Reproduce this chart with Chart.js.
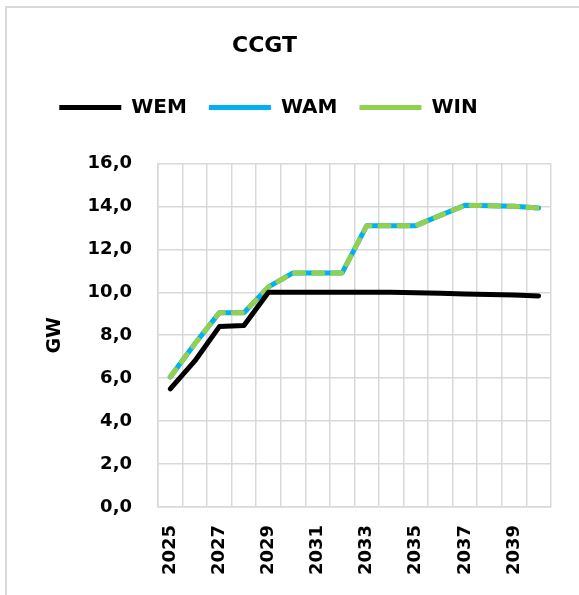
<!DOCTYPE html>
<html lang="en">
<head>
    <meta charset="UTF-8">
    <title>CCGT</title>
    <script src="https://cdn.jsdelivr.net/npm/chart.js"></script>
    <style>
        body { margin: 0; background: #fff; overflow: hidden; }
        #frame { position: absolute; left: 5px; top: 6px; width: 620px; height: 640px; border: 2px solid #d9d9d9; }
        #chart { position: absolute; left: 0; top: 0; }
    </style>
</head>
<body>
    <div id="frame"></div>
    <canvas id="chart" width="579" height="595"></canvas>

    <script>
        // data
        const years = ['2025', '2026', '2027', '2028', '2029', '2030', '2031', '2032',
                       '2033', '2034', '2035', '2036', '2037', '2038', '2039', '2040'];
        const wem = [5.5, 6.8, 8.4, 8.45, 10.0, 10.0, 10.0, 10.0, 10.0, 10.0, 9.98, 9.95, 9.92, 9.9, 9.87, 9.83];
        const wam = [6.05, 7.6, 9.05, 9.05, 10.25, 10.9, 10.9, 10.9, 13.1, 13.1, 13.1, 13.58, 14.05, 14.03, 14.0, 13.92];
        const win = [6.05, 7.6, 9.05, 9.05, 10.25, 10.9, 10.9, 10.9, 13.1, 13.1, 13.1, 13.58, 14.05, 14.03, 14.0, 13.92];

        const FONT = "'DejaVu Sans', sans-serif";
        const GRID = '#d9d9d9';

        // extra space under the legend, and title/legend sit a bit left of the plot centre
        const tweaks = {
            id: 'tweaks',
            beforeInit(chart) {
                const fit = chart.legend.fit;
                chart.legend.fit = function () {
                    fit.bind(chart.legend)();
                    this.height += 36;
                };
            },
            afterLayout(chart) {
                chart.titleBlock.left -= 32;
                chart.titleBlock.right -= 32;
                chart.legend.left -= 28;
                chart.legend.right -= 28;
            }
        };

        new Chart(document.getElementById('chart'), {
            type: 'line',
            data: {
                labels: years,
                datasets: [
                    { label: 'WEM', data: wem, borderColor: '#000000', backgroundColor: '#000000', borderWidth: 5, order: 0 },
                    { label: 'WAM', data: wam, borderColor: '#00B0F0', backgroundColor: '#00B0F0', borderWidth: 5, order: 1 },
                    { label: 'WIN', data: win, borderColor: '#92D050', backgroundColor: '#92D050', borderWidth: 5, borderDash: [9, 10], order: 0 }
                ]
            },
            options: {
                responsive: false,
                animation: false,
                elements: {
                    point: { radius: 0, hoverRadius: 0 },
                    line: { tension: 0, borderCapStyle: 'round', borderJoinStyle: 'round' }
                },
                layout: { padding: { top: 20, left: 40, right: 26, bottom: 17 } },
                plugins: {
                    title: {
                        display: true,
                        text: 'CCGT',
                        color: '#000',
                        font: { family: FONT, size: 22, weight: 'bold' },
                        padding: { top: 13, bottom: 16 }
                    },
                    legend: {
                        display: true,
                        labels: {
                            color: '#000',
                            font: { family: FONT, size: 20, weight: 'bold' },
                            usePointStyle: true,
                            pointStyle: 'line',
                            pointStyleWidth: 62,
                            padding: 22,
                            sort: (a, b) => a.datasetIndex - b.datasetIndex
                        }
                    },
                    tooltip: { enabled: false }
                },
                scales: {
                    x: {
                        offset: true,
                        afterFit: s => { s.height = 71; },
                        grid: { color: GRID, lineWidth: 1.5, drawTicks: false, offset: true },
                        border: { color: GRID, width: 1.5 },
                        ticks: {
                            autoSkip: false,
                            minRotation: 90,
                            maxRotation: 90,
                            padding: 18,
                            color: '#000',
                            font: { family: FONT, size: 18, weight: 'bold' },
                            callback: function (value, index) {
                                return index % 2 === 0 ? years[index] : '';
                            }
                        }
                    },
                    y: {
                        min: 0,
                        max: 16,
                        afterFit: s => { s.width = 118; },
                        grid: { color: GRID, lineWidth: 1.5, drawTicks: false },
                        border: { color: GRID, width: 1.5 },
                        ticks: {
                            stepSize: 2,
                            padding: 26,
                            color: '#000',
                            font: { family: FONT, size: 18, weight: 'bold' },
                            callback: v => v.toFixed(1).replace('.', ',')
                        },
                        title: {
                            display: true,
                            text: 'GW',
                            color: '#000',
                            font: { family: FONT, size: 19, weight: 'bold' },
                            padding: { top: 4, bottom: 18 }
                        }
                    }
                }
            },
            plugins: [tweaks]
        });
    </script>
</body>
</html>
